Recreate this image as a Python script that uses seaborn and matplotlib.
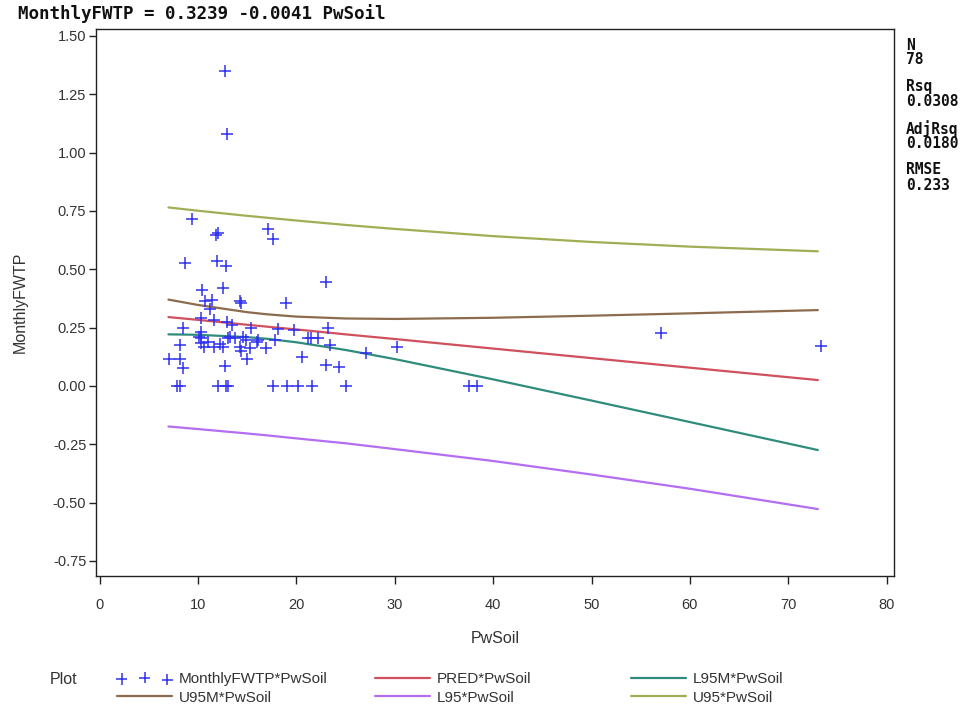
import numpy as np
import pandas as pd
import matplotlib
matplotlib.use("Agg")
import matplotlib.pyplot as plt
import seaborn as sns

# ---- data ----
pw_soil = [12.74, 13.0, 9.35, 12.0, 11.8, 17.1, 17.67, 8.7, 11.93, 12.9,
           23.04, 10.43, 12.5, 10.7, 11.4, 14.3, 14.4, 18.9, 11.25, 10.3,
           11.65, 12.95, 13.5, 15.4, 8.49, 10.3, 10.12, 10.3, 8.19, 10.3,
           10.6, 11.65, 12.5, 13.08, 13.76, 14.3, 14.9, 15.3, 16.0, 15.0,
           7.06, 8.19, 8.49, 12.74, 7.85, 8.15, 12.06, 12.9, 13.08, 17.67,
           19.03, 20.15, 21.58, 25.08, 37.58, 38.33, 18.1, 19.8, 23.2, 21.17,
           21.5, 22.2, 23.4, 16.07, 16.9, 17.87, 20.6, 23.04, 24.33, 27.1,
           30.2, 57.1, 73.3, 14.4, 11.0, 13.3, 14.6, 12.2]
monthly_fwtp = [1.35, 1.08, 0.715, 0.655, 0.645, 0.671, 0.63, 0.527, 0.535, 0.515,
                0.445, 0.41, 0.42, 0.365, 0.37, 0.365, 0.355, 0.355, 0.33, 0.29,
                0.283, 0.275, 0.26, 0.247, 0.25, 0.232, 0.211, 0.204, 0.175, 0.183,
                0.168, 0.166, 0.166, 0.207, 0.207, 0.166, 0.197, 0.161, 0.19, 0.114,
                0.116, 0.116, 0.078, 0.087, 0.0, 0.0, 0.0, 0.0, 0.0, 0.0,
                0.0, 0.0, 0.0, 0.0, 0.0, 0.0, 0.243, 0.24, 0.25, 0.204,
                0.207, 0.207, 0.175, 0.197, 0.161, 0.197, 0.123, 0.09, 0.083, 0.14,
                0.168, 0.225, 0.17, 0.15, 0.19, 0.21, 0.21, 0.18]

band_x = [7, 10, 15, 17, 20, 25, 30, 40, 50, 60, 73]
pred = [0.295, 0.283, 0.262, 0.254, 0.242, 0.221, 0.201, 0.160, 0.119, 0.078, 0.025]
u95m = [0.370, 0.347, 0.316, 0.307, 0.297, 0.289, 0.287, 0.292, 0.301, 0.311, 0.325]
l95m = [0.221, 0.219, 0.209, 0.202, 0.187, 0.154, 0.115, 0.028, -0.063, -0.155, -0.275]
u95 = [0.765, 0.751, 0.729, 0.721, 0.709, 0.690, 0.673, 0.642, 0.617, 0.597, 0.577]
l95 = [-0.174, -0.185, -0.204, -0.212, -0.225, -0.246, -0.271, -0.322, -0.380, -0.441, -0.528]

x_ticks = [0, 10, 20, 30, 40, 50, 60, 70, 80]
y_ticks = [-0.75, -0.50, -0.25, 0.00, 0.25, 0.50, 0.75, 1.00, 1.25, 1.50]

title_text = "MonthlyFWTP = 0.3239 -0.0041 PwSoil"
stats = [("N", "78"), ("Rsq", "0.0308"), ("AdjRsq", "0.0180"), ("RMSE", "0.233")]

# ---- style ----
sns.set_style("ticks")
plt.rcParams["font.family"] = ["Liberation Sans", "DejaVu Sans"]

W, H = 976, 711
fig = plt.figure(figsize=(W / 100, H / 100), dpi=100)
L, R, T, B = 96, 894, 29, 576
ax = fig.add_axes([L / W, 1 - B / H, (R - L) / W, (B - T) / H])

scatter_col = "#3030f0"
colors = {
    "PRED": "#d0505e",
    "L95M": "#2f8c7c",
    "U95M": "#8c6b4e",
    "L95": "#b36ef2",
    "U95": "#a2ae55",
}

df_pts = pd.DataFrame({"PwSoil": pw_soil, "MonthlyFWTP": monthly_fwtp})
sns.scatterplot(data=df_pts, x="PwSoil", y="MonthlyFWTP", marker="+",
                s=70, linewidth=1.1, color=scatter_col, ax=ax,
                label="MonthlyFWTP*PwSoil", zorder=5)

bands = {"PRED": pred, "L95M": l95m, "U95M": u95m, "L95": l95, "U95": u95}
for name, vals in bands.items():
    sns.lineplot(x=band_x, y=vals, color=colors[name], linewidth=1.6,
                 ax=ax, label=f"{name}*PwSoil", zorder=3)

ax.set_xlim(-0.36, 80.74)
ax.set_ylim(-0.815, 1.53)
ax.set_xticks(x_ticks)
ax.set_yticks(y_ticks)
ax.set_yticklabels([f"{v:.2f}" for v in y_ticks])
ax.tick_params(direction="out", width=1, colors="#222222",
               labelsize=10.5, labelcolor="#333333")
ax.tick_params(axis="y", length=5, pad=2)
ax.tick_params(axis="x", length=6, pad=10)
for sp in ax.spines.values():
    sp.set_visible(True)
    sp.set_color("#222222")
    sp.set_linewidth(1.0)

ax.set_xlabel("PwSoil", fontsize=11.5, color="#333333")
ax.set_ylabel("MonthlyFWTP", fontsize=11.5, color="#333333")
ax.xaxis.set_label_coords(0.5, -0.1)
ax.yaxis.set_label_coords(-0.086, 0.5)

# ---- legend (three equal-width columns as in SAS) ----
handles, labels = ax.get_legend_handles_labels()
ax.get_legend().remove()
hmap = dict(zip(labels, handles))
cols = [["MonthlyFWTP*PwSoil", "U95M*PwSoil"],
        ["PRED*PwSoil", "L95*PwSoil"],
        ["L95M*PwSoil", "U95*PwSoil"]]
col_x = [119, 377, 633]
for cx, names in zip(col_x, cols):
    lg = fig.legend([hmap[n] for n in names], names,
                    loc="upper left",
                    bbox_to_anchor=((cx - 2) / W, 1 - 672 / H),
                    frameon=False, fontsize=11, handlelength=3.6,
                    handletextpad=0.45, labelspacing=0.3, borderpad=0,
                    borderaxespad=0, scatterpoints=3)
    for t in lg.get_texts():
        t.set_color("#333333")
fig.text(50 / W, 1 - 679 / H, "Plot", fontsize=11.5, color="#333333",
         ha="left", va="center")

# ---- title and stats ----
fig.text(18 / W, 1 - 14 / H, title_text, fontsize=12.6, fontweight="bold",
         family="DejaVu Sans Mono", ha="left", va="center", color="#111111")
ys = [45, 60, 87, 102, 129, 144, 170, 186]
i = 0
for k, v in stats:
    for s in (k, v):
        fig.text(906 / W, 1 - ys[i] / H, s, fontsize=10.5, fontweight="bold",
                 family="DejaVu Sans Mono", ha="left", va="center",
                 color="#111111")
        i += 1

fig.savefig("out.png", dpi=100)
